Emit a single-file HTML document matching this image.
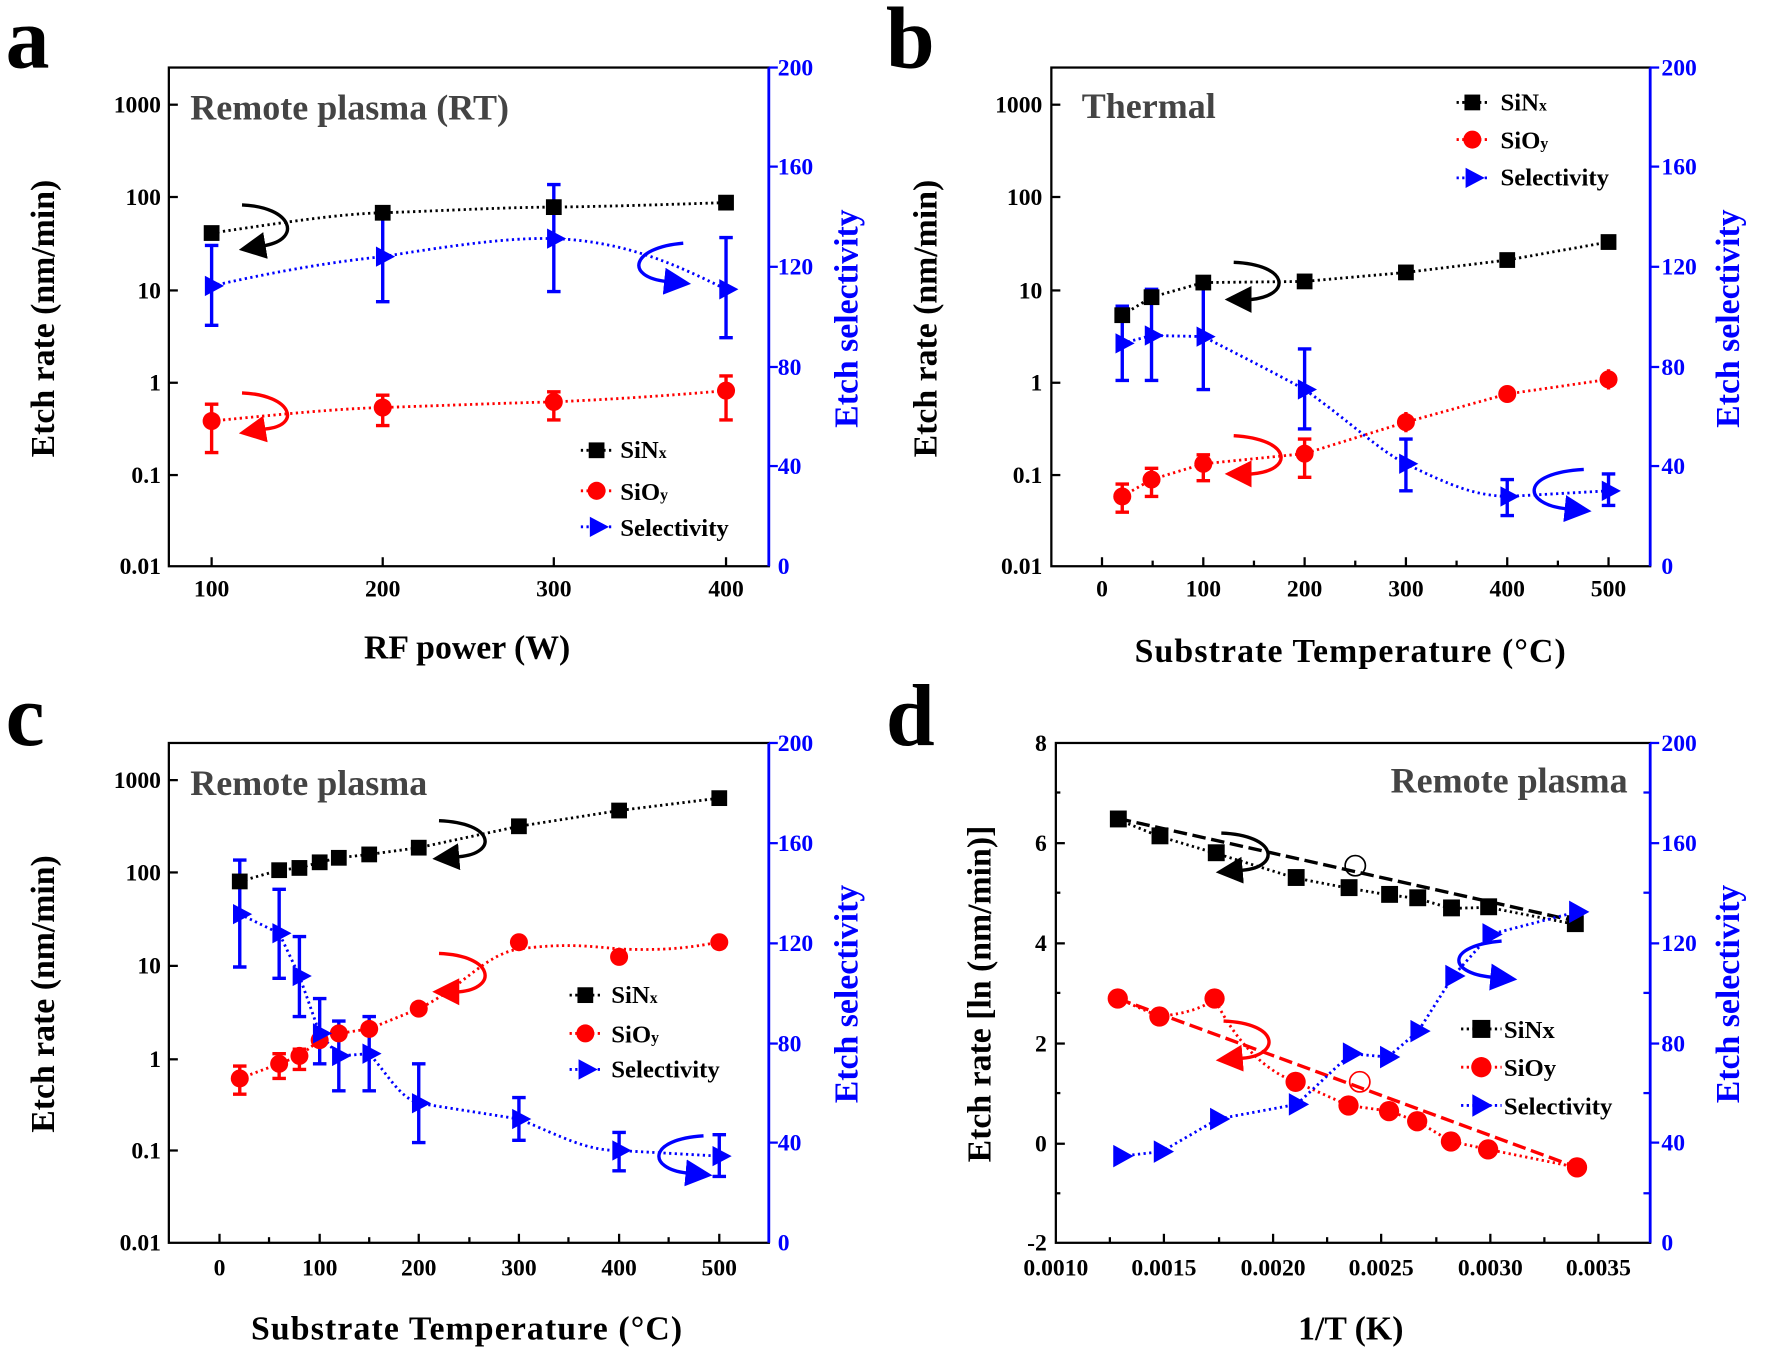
<!DOCTYPE html>
<html><head><meta charset="utf-8"><style>
html,body{margin:0;padding:0;background:#fff}
svg{display:block}
text{font-family:"Liberation Serif",serif;font-weight:bold}
.tk{font-size:21px}
.ax{font-size:30px}
.lt{font-size:22px}
.ttl{font-size:32px;fill:#444}
.let{font-size:78px}
.b{fill:#0000ff}
</style></head><body>
<svg width="1765" height="1352" viewBox="0 0 1568 1201" preserveAspectRatio="none" xmlns="http://www.w3.org/2000/svg">
<defs>
<marker id="ak" markerWidth="8" markerHeight="8" refX="4" refY="4" orient="auto"><path d="M0,0 L8,4 L0,8 z" fill="#000"/></marker>
<marker id="ar" markerWidth="8" markerHeight="8" refX="4" refY="4" orient="auto"><path d="M0,0 L8,4 L0,8 z" fill="#f00"/></marker>
<marker id="ab" markerWidth="8" markerHeight="8" refX="4" refY="4" orient="auto"><path d="M0,0 L8,4 L0,8 z" fill="#00f"/></marker>
</defs>

<text x="5" y="60" class="let">a</text>
<text x="787" y="60" class="let">b</text>
<text x="5" y="662" class="let">c</text>
<text x="787" y="662" class="let">d</text>

<!-- ===== Panel a ===== -->
<g>
<rect x="150" y="60" width="533" height="443" fill="none" stroke="#000" stroke-width="2"/>
<line x1="683" y1="60" x2="683" y2="503" stroke="#00f" stroke-width="2.5"/>
<g stroke="#000" stroke-width="2">
<line x1="150" y1="93" x2="158" y2="93"/><line x1="150" y1="175" x2="158" y2="175"/><line x1="150" y1="258" x2="158" y2="258"/><line x1="150" y1="340" x2="158" y2="340"/><line x1="150" y1="422" x2="158" y2="422"/>
<line x1="188" y1="503" x2="188" y2="495"/><line x1="340" y1="503" x2="340" y2="495"/><line x1="492" y1="503" x2="492" y2="495"/><line x1="645" y1="503" x2="645" y2="495"/>
</g>
<g stroke="#00f" stroke-width="2"><line x1="683" y1="148" x2="691" y2="148"/><line x1="683" y1="237" x2="691" y2="237"/><line x1="683" y1="326" x2="691" y2="326"/><line x1="683" y1="414" x2="691" y2="414"/><line x1="683" y1="60" x2="691" y2="60"/></g>
<g class="tk" text-anchor="end"><text x="143" y="100">1000</text><text x="143" y="182">100</text><text x="143" y="265">10</text><text x="143" y="347">1</text><text x="143" y="429">0.1</text><text x="143" y="510">0.01</text></g>
<g class="tk b"><text x="691" y="67">200</text><text x="691" y="155">160</text><text x="691" y="244">120</text><text x="691" y="333">80</text><text x="691" y="421">40</text><text x="691" y="510">0</text></g>
<g class="tk" text-anchor="middle"><text x="188" y="530">100</text><text x="340" y="530">200</text><text x="492" y="530">300</text><text x="645" y="530">400</text></g>
<text class="ax" x="415" y="585" text-anchor="middle">RF power (W)</text>
<text class="ax" transform="translate(48,283) rotate(-90)" text-anchor="middle">Etch rate (nm/min)</text>
<text class="ax b" transform="translate(762,283) rotate(-90)" text-anchor="middle">Etch selectivity</text>
<text class="ttl" x="169" y="106">Remote plasma (RT)</text>
<path d="M188,207 C250,198 300,190 340,189 C400,187 450,184 492,184 C560,183 610,181 645,180" fill="none" stroke="#000" stroke-width="2.5" stroke-dasharray="2,3"/>
<path d="M188,374 C250,368 300,363 340,362 C400,360 450,358 492,357 C560,354 610,350 645,347" fill="none" stroke="#f00" stroke-width="2.5" stroke-dasharray="2,3"/>
<path d="M188,254 C250,240 300,232 340,228 C420,215 460,211 492,212 C560,214 610,240 645,257" fill="none" stroke="#00f" stroke-width="2.5" stroke-dasharray="2,3"/>
<g stroke="#f00" stroke-width="3"><path d="M188,359V402M182,359h12M182,402h12M340,351V378M334,351h12M334,378h12M492,348V373M486,348h12M486,373h12M645,334V373M639,334h12M639,373h12"/></g>
<g stroke="#00f" stroke-width="3"><path d="M188,218V289M182,218h12M182,289h12M340,185V268M334,185h12M334,268h12M492,164V259M486,164h12M486,259h12M645,211V300M639,211h12M639,300h12"/></g>
<g fill="#000"><rect x="181" y="200" width="14" height="14"/><rect x="333" y="182" width="14" height="14"/><rect x="485" y="177" width="14" height="14"/><rect x="638" y="173" width="14" height="14"/></g>
<g fill="#f00"><circle cx="188" cy="374" r="8"/><circle cx="340" cy="362" r="8"/><circle cx="492" cy="357" r="8"/><circle cx="645" cy="347" r="8"/></g>
<g fill="#00f"><path d="M182,245 l17,9 l-17,9z"/><path d="M334,219 l17,9 l-17,9z"/><path d="M486,203 l17,9 l-17,9z"/><path d="M639,248 l17,9 l-17,9z"/></g>
<path d="M215,182 C260,184 268,212 236,218 L224,220" fill="none" stroke="#000" stroke-width="3" marker-end="url(#ak)"/>
<path d="M215,349 C260,351 268,378 236,381 L224,383" fill="none" stroke="#f00" stroke-width="3" marker-end="url(#ar)"/>
<path d="M607,216 C560,220 555,246 592,250 L602,251" fill="none" stroke="#00f" stroke-width="3" marker-end="url(#ab)"/>
<g><path d="M516,400h28" stroke="#000" stroke-width="2.5" stroke-dasharray="2,3"/><rect x="523" y="393" width="14" height="14"/><text class="lt" x="551" y="407">SiN<tspan font-size="14">x</tspan></text>
<path d="M516,436h28" stroke="#f00" stroke-width="2.5" stroke-dasharray="2,3"/><circle cx="530" cy="436" r="8" fill="#f00"/><text class="lt" x="551" y="444">SiO<tspan font-size="14">y</tspan></text>
<path d="M516,468h28" stroke="#00f" stroke-width="2.5" stroke-dasharray="2,3"/><path d="M524,459 l17,9 l-17,9z" fill="#00f"/><text class="lt" x="551" y="476">Selectivity</text></g>
</g>

<!-- ===== Panel b ===== -->
<g>
<rect x="934" y="60" width="532" height="443" fill="none" stroke="#000" stroke-width="2"/>
<line x1="1466" y1="60" x2="1466" y2="503" stroke="#00f" stroke-width="2.5"/>
<g stroke="#000" stroke-width="2">
<line x1="934" y1="93" x2="942" y2="93"/><line x1="934" y1="175" x2="942" y2="175"/><line x1="934" y1="258" x2="942" y2="258"/><line x1="934" y1="340" x2="942" y2="340"/><line x1="934" y1="422" x2="942" y2="422"/>
<line x1="979" y1="503" x2="979" y2="495"/><line x1="1069" y1="503" x2="1069" y2="495"/><line x1="1159" y1="503" x2="1159" y2="495"/><line x1="1249" y1="503" x2="1249" y2="495"/><line x1="1339" y1="503" x2="1339" y2="495"/><line x1="1429" y1="503" x2="1429" y2="495"/>
<line x1="1024" y1="503" x2="1024" y2="498"/><line x1="1114" y1="503" x2="1114" y2="498"/><line x1="1204" y1="503" x2="1204" y2="498"/><line x1="1294" y1="503" x2="1294" y2="498"/><line x1="1384" y1="503" x2="1384" y2="498"/>
</g>
<g stroke="#00f" stroke-width="2"><line x1="1466" y1="148" x2="1474" y2="148"/><line x1="1466" y1="237" x2="1474" y2="237"/><line x1="1466" y1="326" x2="1474" y2="326"/><line x1="1466" y1="414" x2="1474" y2="414"/><line x1="1466" y1="60" x2="1474" y2="60"/></g>
<g class="tk" text-anchor="end"><text x="926" y="100">1000</text><text x="926" y="182">100</text><text x="926" y="265">10</text><text x="926" y="347">1</text><text x="926" y="429">0.1</text><text x="926" y="510">0.01</text></g>
<g class="tk b"><text x="1476" y="67">200</text><text x="1476" y="155">160</text><text x="1476" y="244">120</text><text x="1476" y="333">80</text><text x="1476" y="421">40</text><text x="1476" y="510">0</text></g>
<g class="tk" text-anchor="middle"><text x="979" y="530">0</text><text x="1069" y="530">100</text><text x="1159" y="530">200</text><text x="1249" y="530">300</text><text x="1339" y="530">400</text><text x="1429" y="530">500</text></g>
<text class="ax" x="1200" y="588" text-anchor="middle" letter-spacing="1">Substrate Temperature (°C)</text>
<text class="ax" transform="translate(832,283) rotate(-90)" text-anchor="middle">Etch rate (nm/min)</text>
<text class="ax b" transform="translate(1545,283) rotate(-90)" text-anchor="middle">Etch selectivity</text>
<text class="ttl" x="961" y="105">Thermal</text>
<polyline points="997,280 1023,264 1069,251 1159,250 1249,242 1339,231 1429,215" fill="none" stroke="#000" stroke-width="2.5" stroke-dasharray="2,3"/>
<polyline points="997,441 1023,426 1069,412 1159,403 1249,375 1339,350 1429,337" fill="none" stroke="#f00" stroke-width="2.5" stroke-dasharray="2,3"/>
<path d="M997,305 L1023,298 L1069,299 C1100,315 1130,330 1159,346 C1200,375 1225,400 1249,412 C1290,432 1310,440 1339,441 L1429,436" fill="none" stroke="#00f" stroke-width="2.5" stroke-dasharray="2,3"/>
<g stroke="#f00" stroke-width="3"><path d="M997,430V455M991,430h12M991,455h12M1023,416V441M1017,416h12M1017,441h12M1069,404V427M1063,404h12M1063,427h12M1159,390V424M1153,390h12M1153,424h12M1249,366V384M1429,328V346"/></g>
<g stroke="#00f" stroke-width="3"><path d="M997,272V338M991,272h12M991,338h12M1023,257V338M1017,257h12M1017,338h12M1069,253V346M1063,253h12M1063,346h12M1159,310V381M1153,310h12M1153,381h12M1249,390V436M1243,390h12M1243,436h12M1339,426V458M1333,426h12M1333,458h12M1429,421V449M1423,421h12M1423,449h12"/></g>
<g fill="#000"><rect x="990" y="273" width="14" height="14"/><rect x="1016" y="257" width="14" height="14"/><rect x="1062" y="244" width="14" height="14"/><rect x="1152" y="243" width="14" height="14"/><rect x="1242" y="235" width="14" height="14"/><rect x="1332" y="224" width="14" height="14"/><rect x="1422" y="208" width="14" height="14"/></g>
<g fill="#f00"><circle cx="997" cy="441" r="8"/><circle cx="1023" cy="426" r="8"/><circle cx="1069" cy="412" r="8"/><circle cx="1159" cy="403" r="8"/><circle cx="1249" cy="375" r="8"/><circle cx="1339" cy="350" r="8"/><circle cx="1429" cy="337" r="8"/></g>
<g fill="#00f"><path d="M991,296 l17,9 l-17,9z"/><path d="M1017,289 l17,9 l-17,9z"/><path d="M1063,290 l17,9 l-17,9z"/><path d="M1153,337 l17,9 l-17,9z"/><path d="M1243,403 l17,9 l-17,9z"/><path d="M1333,432 l17,9 l-17,9z"/><path d="M1423,427 l17,9 l-17,9z"/></g>
<path d="M1096,233 C1145,235 1148,262 1112,266 L1100,266" fill="none" stroke="#000" stroke-width="3" marker-end="url(#ak)"/>
<path d="M1096,387 C1148,390 1150,418 1112,421 L1100,421" fill="none" stroke="#f00" stroke-width="3" marker-end="url(#ar)"/>
<path d="M1407,417 C1350,420 1352,448 1392,452 L1402,453" fill="none" stroke="#00f" stroke-width="3" marker-end="url(#ab)"/>
<g><path d="M1294,91h28" stroke="#000" stroke-width="2.5" stroke-dasharray="2,3"/><rect x="1301" y="84" width="14" height="14"/><text class="lt" x="1333" y="98">SiN<tspan font-size="14">x</tspan></text>
<path d="M1294,124h28" stroke="#f00" stroke-width="2.5" stroke-dasharray="2,3"/><circle cx="1308" cy="124" r="8" fill="#f00"/><text class="lt" x="1333" y="132">SiO<tspan font-size="14">y</tspan></text>
<path d="M1294,158h28" stroke="#00f" stroke-width="2.5" stroke-dasharray="2,3"/><path d="M1302,149 l17,9 l-17,9z" fill="#00f"/><text class="lt" x="1333" y="165">Selectivity</text></g>
</g>

<!-- ===== Panel c ===== -->
<g>
<rect x="150" y="660" width="533" height="444" fill="none" stroke="#000" stroke-width="2"/>
<line x1="683" y1="660" x2="683" y2="1104" stroke="#00f" stroke-width="2.5"/>
<g stroke="#000" stroke-width="2">
<line x1="150" y1="693" x2="158" y2="693"/><line x1="150" y1="775" x2="158" y2="775"/><line x1="150" y1="858" x2="158" y2="858"/><line x1="150" y1="941" x2="158" y2="941"/><line x1="150" y1="1022" x2="158" y2="1022"/>
<line x1="195" y1="1104" x2="195" y2="1096"/><line x1="284" y1="1104" x2="284" y2="1096"/><line x1="372" y1="1104" x2="372" y2="1096"/><line x1="461" y1="1104" x2="461" y2="1096"/><line x1="550" y1="1104" x2="550" y2="1096"/><line x1="639" y1="1104" x2="639" y2="1096"/>
<line x1="239" y1="1104" x2="239" y2="1099"/><line x1="328" y1="1104" x2="328" y2="1099"/><line x1="417" y1="1104" x2="417" y2="1099"/><line x1="505" y1="1104" x2="505" y2="1099"/><line x1="594" y1="1104" x2="594" y2="1099"/>
</g>
<g stroke="#00f" stroke-width="2"><line x1="683" y1="749" x2="691" y2="749"/><line x1="683" y1="838" x2="691" y2="838"/><line x1="683" y1="927" x2="691" y2="927"/><line x1="683" y1="1015" x2="691" y2="1015"/><line x1="683" y1="660" x2="691" y2="660"/></g>
<g class="tk" text-anchor="end"><text x="143" y="700">1000</text><text x="143" y="782">100</text><text x="143" y="865">10</text><text x="143" y="948">1</text><text x="143" y="1029">0.1</text><text x="143" y="1111">0.01</text></g>
<g class="tk b"><text x="691" y="667">200</text><text x="691" y="756">160</text><text x="691" y="845">120</text><text x="691" y="934">80</text><text x="691" y="1022">40</text><text x="691" y="1111">0</text></g>
<g class="tk" text-anchor="middle"><text x="195" y="1133">0</text><text x="284" y="1133">100</text><text x="372" y="1133">200</text><text x="461" y="1133">300</text><text x="550" y="1133">400</text><text x="639" y="1133">500</text></g>
<text class="ax" x="415" y="1190" text-anchor="middle" letter-spacing="1">Substrate Temperature (°C)</text>
<text class="ax" transform="translate(48,883) rotate(-90)" text-anchor="middle">Etch rate (nm/min)</text>
<text class="ax b" transform="translate(762,883) rotate(-90)" text-anchor="middle">Etch selectivity</text>
<text class="ttl" x="169" y="706">Remote plasma</text>
<polyline points="213,783 248,773 266,771 284,766 301,762 328,759 372,753 461,734 550,720 639,709" fill="none" stroke="#000" stroke-width="2.5" stroke-dasharray="2,3"/>
<path d="M213,958 L248,945 266,938 284,924 301,918 328,914 372,896 C410,878 430,848 461,843 C500,838 520,840 550,843 C600,845 620,840 639,837" fill="none" stroke="#f00" stroke-width="2.5" stroke-dasharray="2,3"/>
<path d="M213,812 L248,829 266,867 284,918 301,938 328,936 C345,955 355,975 372,980 L461,994 C500,1010 520,1022 550,1022 L639,1027" fill="none" stroke="#00f" stroke-width="2.5" stroke-dasharray="2,3"/>
<g stroke="#f00" stroke-width="3"><path d="M213,947V972M207,947h12M207,972h12M248,936V958M242,936h12M242,958h12M266,932V950M260,932h12M260,950h12"/></g>
<g stroke="#00f" stroke-width="3"><path d="M213,764V859M207,764h12M207,859h12M248,790V869M242,790h12M242,869h12M266,832V903M260,832h12M260,903h12M284,887V945M278,887h12M278,945h12M301,907V969M295,907h12M295,969h12M328,903V969M322,903h12M322,969h12M372,945V1015M366,945h12M366,1015h12M461,975V1013M455,975h12M455,1013h12M550,1006V1040M544,1006h12M544,1040h12M639,1008V1045M633,1008h12M633,1045h12"/></g>
<g fill="#000"><rect x="206" y="776" width="14" height="14"/><rect x="241" y="766" width="14" height="14"/><rect x="259" y="764" width="14" height="14"/><rect x="277" y="759" width="14" height="14"/><rect x="294" y="755" width="14" height="14"/><rect x="321" y="752" width="14" height="14"/><rect x="365" y="746" width="14" height="14"/><rect x="454" y="727" width="14" height="14"/><rect x="543" y="713" width="14" height="14"/><rect x="632" y="702" width="14" height="14"/></g>
<g fill="#f00"><circle cx="213" cy="958" r="8"/><circle cx="248" cy="945" r="8"/><circle cx="266" cy="938" r="8"/><circle cx="284" cy="924" r="8"/><circle cx="301" cy="918" r="8"/><circle cx="328" cy="914" r="8"/><circle cx="372" cy="896" r="8"/><circle cx="461" cy="837" r="8"/><circle cx="550" cy="850" r="8"/><circle cx="639" cy="837" r="8"/></g>
<g fill="#00f"><path d="M207,803 l17,9 l-17,9z"/><path d="M242,820 l17,9 l-17,9z"/><path d="M260,858 l17,9 l-17,9z"/><path d="M278,909 l17,9 l-17,9z"/><path d="M295,929 l17,9 l-17,9z"/><path d="M322,927 l17,9 l-17,9z"/><path d="M366,971 l17,9 l-17,9z"/><path d="M455,985 l17,9 l-17,9z"/><path d="M544,1013 l17,9 l-17,9z"/><path d="M633,1018 l17,9 l-17,9z"/></g>
<path d="M390,729 C440,731 442,758 408,761 L396,762" fill="none" stroke="#000" stroke-width="3" marker-end="url(#ak)"/>
<path d="M390,847 C440,849 442,878 408,881 L396,881" fill="none" stroke="#f00" stroke-width="3" marker-end="url(#ar)"/>
<path d="M625,1009 C575,1012 575,1038 610,1042 L621,1043" fill="none" stroke="#00f" stroke-width="3" marker-end="url(#ab)"/>
<g><path d="M506,884h28" stroke="#000" stroke-width="2.5" stroke-dasharray="2,3"/><rect x="513" y="877" width="14" height="14"/><text class="lt" x="543" y="891">SiN<tspan font-size="14">x</tspan></text>
<path d="M506,918h28" stroke="#f00" stroke-width="2.5" stroke-dasharray="2,3"/><circle cx="520" cy="918" r="8" fill="#f00"/><text class="lt" x="543" y="926">SiO<tspan font-size="14">y</tspan></text>
<path d="M506,950h28" stroke="#00f" stroke-width="2.5" stroke-dasharray="2,3"/><path d="M514,941 l17,9 l-17,9z" fill="#00f"/><text class="lt" x="543" y="957">Selectivity</text></g>
</g>

<!-- ===== Panel d ===== -->
<g>
<rect x="938" y="660" width="528" height="444" fill="none" stroke="#000" stroke-width="2"/>
<line x1="1466" y1="660" x2="1466" y2="1104" stroke="#00f" stroke-width="2.5"/>
<g stroke="#000" stroke-width="2">
<line x1="938" y1="749" x2="946" y2="749"/><line x1="938" y1="838" x2="946" y2="838"/><line x1="938" y1="927" x2="946" y2="927"/><line x1="938" y1="1016" x2="946" y2="1016"/>
<line x1="938" y1="704" x2="942" y2="704"/><line x1="938" y1="793" x2="942" y2="793"/><line x1="938" y1="882" x2="942" y2="882"/><line x1="938" y1="971" x2="942" y2="971"/><line x1="938" y1="1060" x2="942" y2="1060"/>
<line x1="1034" y1="1104" x2="1034" y2="1096"/><line x1="1131" y1="1104" x2="1131" y2="1096"/><line x1="1227" y1="1104" x2="1227" y2="1096"/><line x1="1324" y1="1104" x2="1324" y2="1096"/><line x1="1420" y1="1104" x2="1420" y2="1096"/>
<line x1="986" y1="1104" x2="986" y2="1099"/><line x1="1083" y1="1104" x2="1083" y2="1099"/><line x1="1179" y1="1104" x2="1179" y2="1099"/><line x1="1276" y1="1104" x2="1276" y2="1099"/><line x1="1372" y1="1104" x2="1372" y2="1099"/>
</g>
<g stroke="#00f" stroke-width="2"><line x1="1466" y1="749" x2="1474" y2="749"/><line x1="1466" y1="838" x2="1474" y2="838"/><line x1="1466" y1="927" x2="1474" y2="927"/><line x1="1466" y1="1015" x2="1474" y2="1015"/><line x1="1466" y1="660" x2="1474" y2="660"/>
<line x1="1466" y1="704" x2="1460" y2="704"/><line x1="1466" y1="793" x2="1460" y2="793"/><line x1="1466" y1="882" x2="1460" y2="882"/><line x1="1466" y1="971" x2="1460" y2="971"/><line x1="1466" y1="1060" x2="1460" y2="1060"/></g>
<g class="tk" text-anchor="end"><text x="930" y="667">8</text><text x="930" y="756">6</text><text x="930" y="845">4</text><text x="930" y="934">2</text><text x="930" y="1023">0</text><text x="930" y="1111">-2</text></g>
<g class="tk b"><text x="1476" y="667">200</text><text x="1476" y="756">160</text><text x="1476" y="845">120</text><text x="1476" y="934">80</text><text x="1476" y="1022">40</text><text x="1476" y="1111">0</text></g>
<g class="tk" text-anchor="middle"><text x="938" y="1133">0.0010</text><text x="1034" y="1133">0.0015</text><text x="1131" y="1133">0.0020</text><text x="1227" y="1133">0.0025</text><text x="1324" y="1133">0.0030</text><text x="1420" y="1133">0.0035</text></g>
<text class="ax" x="1200" y="1190" text-anchor="middle">1/T (K)</text>
<text class="ax" transform="translate(880,883) rotate(-90)" text-anchor="middle">Etch rate [ln (nm/min)]</text>
<text class="ax b" transform="translate(1545,883) rotate(-90)" text-anchor="middle">Etch selectivity</text>
<text class="ttl" x="1446" y="704" text-anchor="end">Remote plasma</text>
<line x1="993" y1="727" x2="1399" y2="818" stroke="#000" stroke-width="3" stroke-dasharray="12,5"/>
<line x1="993" y1="887" x2="1401" y2="1037" stroke="#f00" stroke-width="3" stroke-dasharray="12,5"/>
<polyline points="993,728 1030,743 1080,758 1151,780 1198,789 1234,795 1259,798 1289,807 1322,806 1399,821" fill="none" stroke="#000" stroke-width="2.5" stroke-dasharray="2,3"/>
<path d="M993,887 L1030,903 C1055,900 1070,895 1079,887 C1095,920 1120,950 1151,961 L1198,982 1234,987 1259,996 1289,1014 1322,1021 1401,1037" fill="none" stroke="#f00" stroke-width="2.5" stroke-dasharray="2,3"/>
<polyline points="996,1027 1032,1023 1082,994 1152,981 1200,936 1233,939 1260,916 1291,867 1324,830 1401,810" fill="none" stroke="#00f" stroke-width="2.5" stroke-dasharray="2,3"/>
<circle cx="1204" cy="769" r="9" fill="none" stroke="#000" stroke-width="1.5"/>
<circle cx="1208" cy="961" r="9" fill="none" stroke="#f00" stroke-width="1.5"/>
<g fill="#000"><rect x="986" y="720" width="15" height="15"/><rect x="1023" y="735" width="15" height="15"/><rect x="1073" y="750" width="15" height="15"/><rect x="1144" y="772" width="15" height="15"/><rect x="1191" y="781" width="15" height="15"/><rect x="1227" y="787" width="15" height="15"/><rect x="1252" y="790" width="15" height="15"/><rect x="1282" y="799" width="15" height="15"/><rect x="1315" y="798" width="15" height="15"/><rect x="1392" y="813" width="15" height="15"/></g>
<g fill="#f00"><circle cx="993" cy="887" r="9"/><circle cx="1030" cy="903" r="9"/><circle cx="1079" cy="887" r="9"/><circle cx="1151" cy="961" r="9"/><circle cx="1198" cy="982" r="9"/><circle cx="1234" cy="987" r="9"/><circle cx="1259" cy="996" r="9"/><circle cx="1289" cy="1014" r="9"/><circle cx="1322" cy="1021" r="9"/><circle cx="1401" cy="1037" r="9"/></g>
<g fill="#00f"><path d="M989,1017 l18,10 l-18,10z"/><path d="M1025,1013 l18,10 l-18,10z"/><path d="M1075,984 l18,10 l-18,10z"/><path d="M1145,971 l18,10 l-18,10z"/><path d="M1193,926 l18,10 l-18,10z"/><path d="M1226,929 l18,10 l-18,10z"/><path d="M1253,906 l18,10 l-18,10z"/><path d="M1284,857 l18,10 l-18,10z"/><path d="M1317,820 l18,10 l-18,10z"/><path d="M1394,800 l18,10 l-18,10z"/></g>
<path d="M1085,740 C1135,742 1138,770 1104,773 L1092,774" fill="none" stroke="#000" stroke-width="3" marker-end="url(#ak)"/>
<path d="M1087,907 C1137,909 1138,937 1104,940 L1092,941" fill="none" stroke="#f00" stroke-width="3" marker-end="url(#ar)"/>
<path d="M1334,836 C1285,840 1285,864 1325,868 L1336,869" fill="none" stroke="#00f" stroke-width="3" marker-end="url(#ab)"/>
<g><path d="M1298,914h36" stroke="#000" stroke-width="2.5" stroke-dasharray="2,3"/><rect x="1308" y="906" width="16" height="16"/><text class="lt" x="1336" y="922">SiNx</text>
<path d="M1298,948h36" stroke="#f00" stroke-width="2.5" stroke-dasharray="2,3"/><circle cx="1316" cy="948" r="9" fill="#f00"/><text class="lt" x="1336" y="956">SiOy</text>
<path d="M1298,982h36" stroke="#00f" stroke-width="2.5" stroke-dasharray="2,3"/><path d="M1308,972 l18,10 l-18,10z" fill="#00f"/><text class="lt" x="1336" y="990">Selectivity</text></g>
</g>
</svg>
</body></html>
